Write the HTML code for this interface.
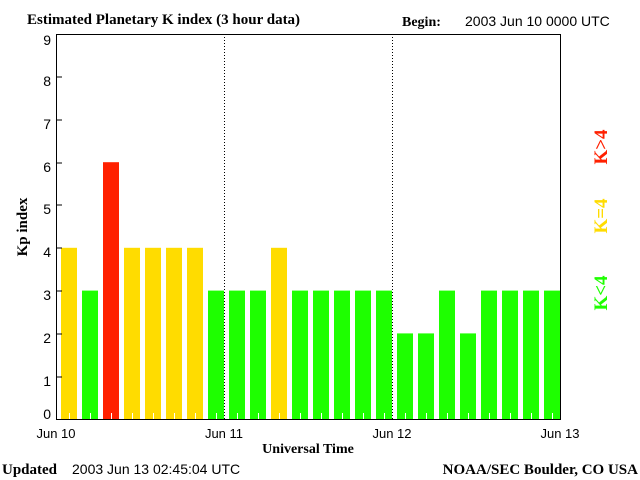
<!DOCTYPE html>
<html><head><style>body{margin:0;background:#fff}svg{display:block}</style></head><body>
<svg width="640" height="480" xmlns="http://www.w3.org/2000/svg" font-family="Liberation Sans, sans-serif">
<rect width="640" height="480" fill="#fff"/>
<g>
<rect x="61" y="247.8" width="16" height="171.2" fill="#ffdc00"/>
<rect x="82" y="290.6" width="16" height="128.4" fill="#1eff00"/>
<rect x="103" y="162.2" width="16" height="256.8" fill="#ff2000"/>
<rect x="124" y="247.8" width="16" height="171.2" fill="#ffdc00"/>
<rect x="145" y="247.8" width="16" height="171.2" fill="#ffdc00"/>
<rect x="166" y="247.8" width="16" height="171.2" fill="#ffdc00"/>
<rect x="187" y="247.8" width="16" height="171.2" fill="#ffdc00"/>
<rect x="208" y="290.6" width="16" height="128.4" fill="#1eff00"/>
<rect x="229" y="290.6" width="16" height="128.4" fill="#1eff00"/>
<rect x="250" y="290.6" width="16" height="128.4" fill="#1eff00"/>
<rect x="271" y="247.8" width="16" height="171.2" fill="#ffdc00"/>
<rect x="292" y="290.6" width="16" height="128.4" fill="#1eff00"/>
<rect x="313" y="290.6" width="16" height="128.4" fill="#1eff00"/>
<rect x="334" y="290.6" width="16" height="128.4" fill="#1eff00"/>
<rect x="355" y="290.6" width="16" height="128.4" fill="#1eff00"/>
<rect x="376" y="290.6" width="16" height="128.4" fill="#1eff00"/>
<rect x="397" y="333.4" width="16" height="85.6" fill="#1eff00"/>
<rect x="418" y="333.4" width="16" height="85.6" fill="#1eff00"/>
<rect x="439" y="290.6" width="16" height="128.4" fill="#1eff00"/>
<rect x="460" y="333.4" width="16" height="85.6" fill="#1eff00"/>
<rect x="481" y="290.6" width="16" height="128.4" fill="#1eff00"/>
<rect x="502" y="290.6" width="16" height="128.4" fill="#1eff00"/>
<rect x="523" y="290.6" width="16" height="128.4" fill="#1eff00"/>
<rect x="544" y="290.6" width="16" height="128.4" fill="#1eff00"/>
</g>
<g stroke="#fff">
<line x1="69.5" y1="413" x2="69.5" y2="419"/><line x1="90.5" y1="413" x2="90.5" y2="419"/><line x1="111.5" y1="413" x2="111.5" y2="419"/><line x1="132.5" y1="413" x2="132.5" y2="419"/><line x1="153.5" y1="413" x2="153.5" y2="419"/><line x1="174.5" y1="413" x2="174.5" y2="419"/><line x1="195.5" y1="413" x2="195.5" y2="419"/><line x1="216.5" y1="413" x2="216.5" y2="419"/>
<line x1="237.5" y1="413" x2="237.5" y2="419"/><line x1="258.5" y1="413" x2="258.5" y2="419"/><line x1="279.5" y1="413" x2="279.5" y2="419"/><line x1="300.5" y1="413" x2="300.5" y2="419"/><line x1="321.5" y1="413" x2="321.5" y2="419"/><line x1="342.5" y1="413" x2="342.5" y2="419"/><line x1="363.5" y1="413" x2="363.5" y2="419"/><line x1="384.5" y1="413" x2="384.5" y2="419"/>
<line x1="405.5" y1="413" x2="405.5" y2="419"/><line x1="426.5" y1="413" x2="426.5" y2="419"/><line x1="447.5" y1="413" x2="447.5" y2="419"/><line x1="468.5" y1="413" x2="468.5" y2="419"/><line x1="489.5" y1="413" x2="489.5" y2="419"/><line x1="510.5" y1="413" x2="510.5" y2="419"/><line x1="531.5" y1="413" x2="531.5" y2="419"/><line x1="552.5" y1="413" x2="552.5" y2="419"/>
</g>
<line x1="224.5" y1="34" x2="224.5" y2="419" stroke="#000" stroke-dasharray="1,2"/>
<line x1="392.5" y1="34" x2="392.5" y2="419" stroke="#000" stroke-dasharray="1,2"/>
<rect x="56.5" y="34.5" width="504" height="385" fill="none" stroke="#000"/>
<g stroke="#000">
<line x1="56" y1="77" x2="62" y2="77"/><line x1="56" y1="120" x2="62" y2="120"/><line x1="56" y1="163" x2="62" y2="163"/>
<line x1="56" y1="205" x2="62" y2="205"/><line x1="56" y1="248" x2="62" y2="248"/><line x1="56" y1="291" x2="62" y2="291"/>
<line x1="56" y1="334" x2="62" y2="334"/><line x1="56" y1="377" x2="62" y2="377"/>
</g>
<g font-size="14" text-anchor="end" fill="#000">
<text x="51" y="45">9</text><text x="51" y="86">8</text><text x="51" y="129">7</text><text x="51" y="172">6</text>
<text x="51" y="214">5</text><text x="51" y="257">4</text><text x="51" y="300">3</text><text x="51" y="343">2</text>
<text x="51" y="386">1</text><text x="51" y="419">0</text>
</g>
<g font-size="13" text-anchor="middle">
<text x="56" y="438">Jun 10</text><text x="224" y="438">Jun 11</text><text x="392" y="438">Jun 12</text><text x="560" y="438">Jun 13</text>
</g>
<text x="308" y="453" font-family="Liberation Serif, serif" font-weight="bold" font-size="14" text-anchor="middle">Universal Time</text>
<text transform="translate(27,227) rotate(-90)" font-family="Liberation Serif, serif" font-weight="bold" font-size="15" text-anchor="middle">Kp index</text>
<text x="27" y="24" font-family="Liberation Serif, serif" font-weight="bold" font-size="15">Estimated Planetary K index (3 hour data)</text>
<text x="402" y="26" font-family="Liberation Serif, serif" font-weight="bold" font-size="14">Begin:</text>
<text x="465" y="26" font-size="14">2003 Jun 10 0000 UTC</text>
<text x="2" y="474" font-family="Liberation Serif, serif" font-weight="bold" font-size="15">Updated</text>
<text x="72" y="474" font-size="14">2003 Jun 13 02:45:04 UTC</text>
<text x="638" y="474" font-family="Liberation Serif, serif" font-weight="bold" font-size="15" text-anchor="end">NOAA/SEC Boulder, CO USA</text>
<g font-family="Liberation Serif, serif" font-weight="bold" font-size="19" text-anchor="middle">
<text transform="translate(607,147) rotate(-90)" fill="#ff2000">K&gt;4</text>
<text transform="translate(607,216) rotate(-90)" fill="#ffdc00">K=4</text>
<text transform="translate(607,293) rotate(-90)" fill="#1eff00">K&lt;4</text>
</g>
</svg>
</body></html>
